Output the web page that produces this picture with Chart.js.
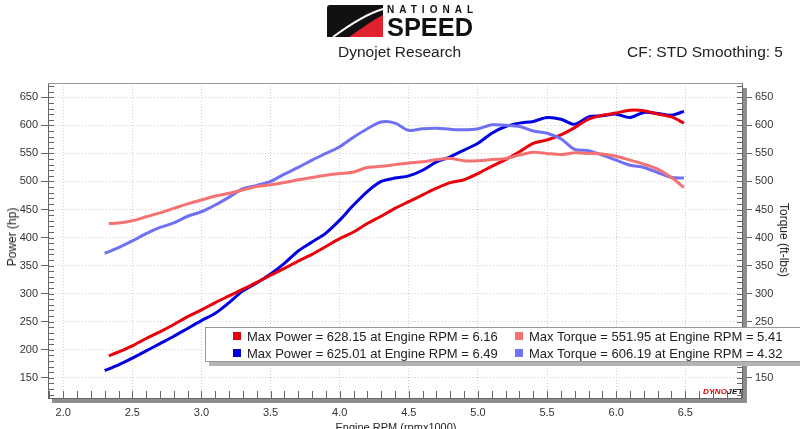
<!DOCTYPE html>
<html>
<head>
<meta charset="utf-8">
<script src="https://cdn.jsdelivr.net/npm/chart.js@4.4.1/dist/chart.umd.min.js"></script>
<style>
  body { margin: 0; background: #fff; font-family: "Liberation Sans", Arial, sans-serif; color: #222; }
  #wrap { position: relative; width: 800px; height: 429px; overflow: hidden; }
  #chart { position: absolute; left: 0; top: 0; }
  #logo { position: absolute; left: 320px; top: 0; }
  .head { position: absolute; top: 42px; font-size: 15.5px; line-height: 20px; white-space: nowrap; }
  #title { left: 338px; }
  #cf { right: 17px; }
  .axt { position: absolute; font-size: 12px; line-height: 14px; white-space: nowrap; color: #222; }
  #ytl { left: 12px; top: 237px; transform: translate(-50%, -50%) rotate(-90deg); }
  #ytr { left: 784px; top: 240px; transform: translate(-50%, -50%) rotate(90deg); }
  #xt { left: 396px; top: 420px; transform: translateX(-50%); font-size: 11px; }
  #dj { position: absolute; left: 703px; top: 387px; font-size: 8px; font-weight: bold; font-style: italic; color: #111; letter-spacing: 0.3px; }
  #dj span { color: #d00; }
  #legend { position: absolute; left: 205px; top: 327px; width: 620px; height: 33px; background: #fff;
            border: 1px solid #999; box-shadow: 4px 4px 0 #b4b4b4; font-size: 13px; }
  .li { position: absolute; white-space: nowrap; line-height: 17px; }
  .li i { position: absolute; left: -14px; top: 4px; width: 8px; height: 8px; }
</style>
</head>
<body>
<div id="wrap">
  <canvas id="chart" width="800" height="429"></canvas>
  <svg id="logo" width="160" height="40" viewBox="320 0 160 40">
    <path d="M330,5 H383 V37 H327 V8 Q327,5 330,5 Z" fill="#111"/>
    <path d="M349,37 C362,28 373,20 383,15 V37 Z" fill="#e0212e"/>
    <path d="M333,37 C348,26 366,14 383,9" fill="none" stroke="#fff" stroke-width="2"/>
    <text x="387" y="13" font-family="Liberation Sans, Arial" font-weight="bold" font-size="10" textLength="86" lengthAdjust="spacing" fill="#111">NATIONAL</text>
    <text x="387" y="36" font-family="Liberation Sans, Arial" font-weight="bold" font-size="25" textLength="86" lengthAdjust="spacingAndGlyphs" fill="#111">SPEED</text>
  </svg>
  <div class="head" id="title">Dynojet Research</div>
  <div class="head" id="cf">CF: STD Smoothing: 5</div>
  <div class="axt" id="ytl">Power (hp)</div>
  <div class="axt" id="ytr">Torque (ft-lbs)</div>
  <div class="axt" id="xt">Engine RPM (rpmx1000)</div>
  <div id="dj"><span>DYNO</span>JET</div>
  <div id="legend"></div>
</div>
<script>
// run 1 (red) and run 2 (blue), engine rpm x1000
const rpmRed = [2.33, 2.4, 2.5, 2.6, 2.7, 2.8, 2.9, 3.0, 3.1, 3.2, 3.3, 3.4, 3.5, 3.6, 3.7, 3.8, 3.9, 4.0, 4.1, 4.2, 4.3,
  4.4, 4.5, 4.6, 4.7, 4.8, 4.9, 5.0, 5.1, 5.2, 5.3, 5.4, 5.5, 5.6, 5.7, 5.8, 5.9, 6.0, 6.1, 6.2, 6.3, 6.4, 6.49];
const powerRed = [189, 196, 207, 220, 232, 245, 259, 271, 284, 296, 308, 320, 333, 345, 358, 370, 384, 398, 410, 425, 438,
  452, 464, 476, 488, 498, 503, 514, 527, 539, 553, 568, 574, 583, 596, 611, 618, 622, 627, 626, 620, 615, 604];
const torqueRed = [425, 426, 430, 437, 444, 452, 460, 467, 474, 479, 485, 491, 494, 498, 503, 507, 511, 514, 517, 525, 527,
  530, 533, 535, 539, 541, 537, 537, 539, 541, 547, 552, 550, 548, 551, 550, 549, 545, 538, 531, 522, 507, 489];

const rpmBlue = [2.3, 2.4, 2.5, 2.6, 2.7, 2.8, 2.9, 3.0, 3.1, 3.2, 3.3, 3.4, 3.5, 3.6, 3.7, 3.8, 3.9, 4.0, 4.1, 4.2, 4.3,
  4.4, 4.5, 4.6, 4.7, 4.8, 4.9, 5.0, 5.1, 5.2, 5.3, 5.4, 5.5, 5.6, 5.7, 5.8, 5.9, 6.0, 6.1, 6.2, 6.3, 6.4, 6.49];
const powerBlue = [163, 173, 185, 198, 211, 224, 238, 252, 265, 284, 305, 319, 335, 354, 376, 392, 408, 431, 458, 482, 500,
  506, 510, 520, 535, 544, 556, 568, 586, 598, 604, 607, 614, 611, 602, 615, 617, 620, 614, 623, 621, 618, 625];
const torqueBlue = [372, 382, 394, 407, 418, 426, 438, 446, 458, 472, 487, 493, 500, 513, 525, 538, 550, 562, 579, 594, 606,
  604, 591, 594, 595, 593, 592, 594, 601, 600, 598, 590, 586, 576, 557, 555, 547, 538, 529, 525, 516, 507, 506];

const xTicks = [2.0, 2.5, 3.0, 3.5, 4.0, 4.5, 5.0, 5.5, 6.0, 6.5];
const yTicks = [150, 200, 250, 300, 350, 400, 450, 500, 550, 600, 650];

const legendLabels = [
  'Max Power = 628.15 at Engine RPM = 6.16',
  'Max Torque = 551.95 at Engine RPM = 5.41',
  'Max Power = 625.01 at Engine RPM = 6.49',
  'Max Torque = 606.19 at Engine RPM = 4.32'
];
const legendColors = ['#e8000b', '#f47272', '#0000e0', '#7070f4'];

// html legend, two rows x two columns
const legend = document.getElementById('legend');
legendLabels.forEach((txt, i) => {
    const d = document.createElement('div');
    d.className = 'li';
    d.style.left = (i % 2 ? 323 : 41) + 'px';
    d.style.top = (i < 2 ? 0 : 17) + 'px';
    d.innerHTML = `<i style="background:${legendColors[i]}"></i>${txt}`;
    legend.appendChild(d);
});

const pts = (xs, ys) => xs.map((x, i) => ({ x: x, y: ys[i] }));

// small inside ticks every 0.1 rpm / 10 units, solid frame and the grey shadow bands
const frame = {
    id: 'frame',
    afterDraw(chart) {
        const { ctx, chartArea: a, scales } = chart;
        ctx.save();
        ctx.fillStyle = '#8e8e8e';
        ctx.fillRect(a.right + 1, a.top + 5, 4, a.bottom - a.top);
        ctx.fillRect(a.left + 4, a.bottom + 1, a.right - a.left + 1, 4);
        ctx.strokeStyle = '#666';
        ctx.lineWidth = 1;
        ctx.beginPath();
        for (let k = 19; k <= 69; k++) {
            const x = Math.round(scales.x.getPixelForValue(k / 10)) + 0.5;
            ctx.moveTo(x, a.bottom); ctx.lineTo(x, a.bottom - 7);
        }
        for (let v = 120; v <= 670; v += 10) {
            const y = Math.round(scales.y.getPixelForValue(v)) + 0.5;
            ctx.moveTo(a.left, y); ctx.lineTo(a.left + 6, y);
            ctx.moveTo(a.right, y); ctx.lineTo(a.right - 5, y);
        }
        ctx.moveTo(a.left + 0.5, a.top); ctx.lineTo(a.left + 0.5, a.bottom + 0.5);
        ctx.lineTo(a.right + 0.5, a.bottom + 0.5);
        ctx.stroke();
        ctx.strokeStyle = '#999';
        ctx.beginPath();
        ctx.moveTo(a.left, a.top + 0.5); ctx.lineTo(a.right + 0.5, a.top + 0.5);
        ctx.stroke();
        ctx.restore();
    }
};

Chart.defaults.font.family = '"Liberation Sans", Arial, sans-serif';
Chart.defaults.font.size = 11;
Chart.defaults.color = '#333';

const line = (data, color, axis) => ({
    data: data, borderColor: color, borderWidth: 3, pointRadius: 0,
    tension: 0.3, fill: false, yAxisID: axis
});

new Chart(document.getElementById('chart'), {
    type: 'line',
    data: {
        datasets: [
            line(pts(rpmRed, torqueRed), legendColors[1], 'y2'),
            line(pts(rpmBlue, torqueBlue), legendColors[3], 'y2'),
            line(pts(rpmRed, powerRed), legendColors[0], 'y'),
            line(pts(rpmBlue, powerBlue), legendColors[2], 'y')
        ]
    },
    options: {
        responsive: false,
        animation: false,
        devicePixelRatio: 1,
        layout: { padding: { top: 83 } },
        plugins: { legend: { display: false }, tooltip: { enabled: false } },
        scales: {
            x: {
                type: 'linear', min: 1.89, max: 6.91,
                afterBuildTicks: s => { s.ticks = xTicks.map(v => ({ value: v })); },
                afterFit: s => { s.height = 31; },
                ticks: { padding: 8, callback: v => v.toFixed(1) },
                grid: { color: '#cfcfcf', drawTicks: false },
                border: { color: '#666', width: 1, dash: [1, 2] }
            },
            y: {
                position: 'left', min: 114, max: 675.5,
                afterBuildTicks: s => { s.ticks = yTicks.map(v => ({ value: v })); },
                afterFit: s => { s.width = 48; },
                ticks: { padding: 3 },
                grid: { color: '#cfcfcf', tickColor: '#666', tickLength: 7, tickBorderDash: [] },
                border: { color: '#666', width: 1, dash: [1, 2] }
            },
            y2: {
                position: 'right', min: 114, max: 675.5,
                afterBuildTicks: s => { s.ticks = yTicks.map(v => ({ value: v })); },
                afterFit: s => { s.width = 58; },
                ticks: { padding: 3 },
                grid: { drawOnChartArea: false, tickColor: '#666', tickLength: 10 },
                border: { color: '#666', width: 1 }
            }
        }
    },
    plugins: [frame]
});
</script>
</body>
</html>
